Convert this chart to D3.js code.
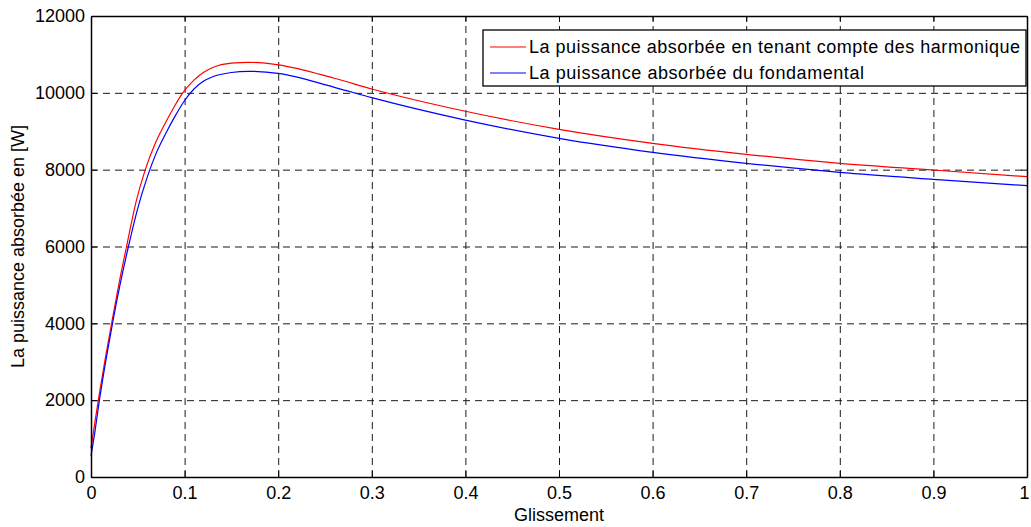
<!DOCTYPE html>
<html>
<head>
<meta charset="utf-8">
<script src="https://cdn.jsdelivr.net/npm/d3@7"></script>
<style>
  body { margin: 0; background: #fff; }
  svg { font-family: 'Liberation Sans', Arial, sans-serif; }
</style>
</head>
<body>
<svg id="chart" width="1031" height="527"></svg>
<script>
// glissement values (x) and absorbed power (y)
const slipHarm = [0, 0.004, 0.0078, 0.015, 0.022, 0.03, 0.038, 0.048, 0.058, 0.068, 0.078, 0.088, 0.098, 0.11, 0.12, 0.13, 0.15, 0.168, 0.2, 0.26, 0.3, 0.4, 0.5, 0.6, 0.7, 0.8, 0.9, 1];
const powerHarm = [750, 1400, 2000, 3050, 4000, 5050, 6000, 7150, 8000, 8650, 9150, 9600, 10000, 10330, 10530, 10660, 10775, 10795, 10730, 10380, 10100, 9520, 9050, 8686, 8400, 8166, 7991, 7817];

const slipFond = [0, 0.004, 0.009, 0.016, 0.023, 0.031, 0.04, 0.05, 0.06, 0.07, 0.08, 0.09, 0.1, 0.11, 0.12, 0.13, 0.15, 0.168, 0.2, 0.26, 0.3, 0.4, 0.5, 0.6, 0.7, 0.8, 0.9, 1];
const powerFond = [550, 1150, 2000, 3050, 4000, 5000, 6000, 7000, 7800, 8450, 8950, 9400, 9800, 10100, 10300, 10420, 10530, 10560, 10508, 10144, 9874, 9290, 8816, 8452, 8166, 7931, 7749, 7583];

const xTicks = [0, 0.1, 0.2, 0.3, 0.4, 0.5, 0.6, 0.7, 0.8, 0.9, 1];
const yTicks = [0, 2000, 4000, 6000, 8000, 10000, 12000];

const seriesNames = [
  'La puissance absorbée en tenant compte des harmonique',
  'La puissance absorbée du fondamental'
];
const seriesColors = ['#ff0000', '#0000ff'];

const margin = { left: 91, top: 16, right: 4, bottom: 50 };
const width = 1031 - margin.left - margin.right;
const height = 527 - margin.top - margin.bottom;

const svg = d3.select('#chart');
const g = svg.append('g').attr('transform', `translate(${margin.left},${margin.top})`);

const x = d3.scaleLinear().domain([0, 1]).range([0, width]);
const y = d3.scaleLinear().domain([0, 12000]).range([height, 0]);

// grid
const xGrid = g.append('g')
  .attr('transform', `translate(0,${height})`)
  .call(d3.axisBottom(x).tickValues(xTicks).tickSize(-height).tickFormat(''));
const yGrid = g.append('g')
  .call(d3.axisLeft(y).tickValues(yTicks).tickSize(-width).tickFormat(''));
[xGrid, yGrid].forEach((grid) => {
  grid.select('.domain').remove();
  grid.selectAll('line')
    .style('stroke', '#1a1a1a')
    .style('stroke-dasharray', '7,5')
    .style('stroke-width', 1);
});

// lines
const line = d3.line()
  .x((d) => x(d[0]))
  .y((d) => y(d[1]))
  .curve(d3.curveMonotoneX);

const series = [
  slipHarm.map((s, i) => [s, powerHarm[i]]),
  slipFond.map((s, i) => [s, powerFond[i]])
];

series.forEach((data, i) => {
  g.append('path')
    .datum(data)
    .attr('fill', 'none')
    .attr('stroke', seriesColors[i])
    .attr('stroke-width', 1.2)
    .attr('d', line);
});

// axes (ticks pointing inward, MATLAB style)
const xFmt = (d) => String(d);
const yFmt = d3.format('d');
const xAxis = g.append('g')
  .attr('transform', `translate(0,${height})`)
  .call(d3.axisBottom(x).tickValues(xTicks).tickSizeInner(-6).tickSizeOuter(0).tickPadding(9).tickFormat(xFmt));
const yAxis = g.append('g')
  .call(d3.axisLeft(y).tickValues(yTicks).tickSizeInner(-6).tickSizeOuter(0).tickPadding(6).tickFormat(yFmt));
const xTop = g.append('g')
  .call(d3.axisTop(x).tickValues(xTicks).tickSizeInner(-6).tickSizeOuter(0).tickFormat(''));
const yRight = g.append('g')
  .attr('transform', `translate(${width},0)`)
  .call(d3.axisRight(y).tickValues(yTicks).tickSizeInner(-6).tickSizeOuter(0).tickFormat(''));

[xAxis, yAxis, xTop, yRight].forEach((ax) => {
  ax.select('.domain').attr('stroke', '#000').attr('stroke-width', 1.5);
  ax.selectAll('.tick line').attr('stroke', '#000');
  ax.selectAll('.tick text')
    .attr('fill', '#000')
    .style('font-size', '18px')
    .style('font-family', "'Liberation Sans', Arial, sans-serif");
});

// keep the last x label inside the window
xAxis.selectAll('.tick text').filter((d) => d === 1).attr('dx', -3);

// axis labels
svg.append('text')
  .attr('x', margin.left + width / 2)
  .attr('y', 521)
  .attr('text-anchor', 'middle')
  .style('font-size', '18px')
  .text('Glissement');

svg.append('text')
  .attr('transform', `translate(24,${margin.top + height / 2}) rotate(-90)`)
  .attr('text-anchor', 'middle')
  .style('font-size', '18px')
  .text('La puissance absorbée en [W]');

// legend
const legend = svg.append('g').attr('transform', 'translate(483,30)');
legend.append('rect')
  .attr('width', 543)
  .attr('height', 56)
  .attr('fill', '#fff')
  .attr('stroke', '#000')
  .attr('stroke-width', 1.3);

const legendWidths = [491, 335];
seriesNames.forEach((name, i) => {
  const row = legend.append('g').attr('transform', `translate(0,${17 + i * 26})`);
  row.append('line')
    .attr('x1', 7).attr('x2', 43)
    .attr('stroke', seriesColors[i])
    .attr('stroke-width', 1.2);
  row.append('text')
    .attr('x', 46)
    .attr('y', 6)
    .attr('textLength', legendWidths[i])
    .attr('lengthAdjust', 'spacing')
    .style('font-size', '18px')
    .text(name);
});
</script>
</body>
</html>
